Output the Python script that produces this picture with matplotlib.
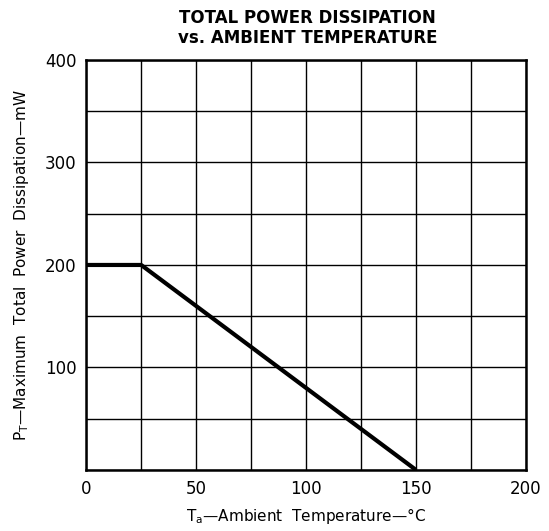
import numpy as np
import matplotlib.pyplot as plt

# derating curve
temp_c = [0, 25, 150]
power_mw = [200, 200, 0]

x_ticks = [0, 50, 100, 150, 200]
y_ticks = [100, 200, 300, 400]
x_grid = np.arange(0, 201, 25)
y_grid = np.arange(0, 401, 50)

fig = plt.figure(figsize=(5.49, 5.31), dpi=100)
ax = fig.add_axes([0.157, 0.115, 0.801, 0.772])

for gx in x_grid:
    ax.axvline(gx, color='black', lw=1.0, zorder=1)
for gy in y_grid:
    ax.axhline(gy, color='black', lw=1.0, zorder=1)

ax.plot(temp_c, power_mw, color='black', lw=3.0, solid_capstyle='butt', zorder=3)

ax.set_xlim(0, 200)
ax.set_ylim(0, 400)
ax.set_xticks(x_ticks)
ax.set_yticks(y_ticks)
ax.tick_params(length=0, labelsize=12, pad=7)
for s in ax.spines.values():
    s.set_linewidth(1.8)

ax.set_xlabel(r'T$_\mathregular{a}$—Ambient  Temperature—°C', fontsize=11, labelpad=6)
ax.set_ylabel(r'P$_\mathregular{T}$—Maximum  Total  Power  Dissipation—mW', fontsize=11, labelpad=10)

fig.text(0.56, 0.948, 'TOTAL POWER DISSIPATION\nvs. AMBIENT TEMPERATURE',
         ha='center', va='center', fontsize=12, fontweight='bold', linespacing=1.15)

fig.savefig('out.png', dpi=100)
